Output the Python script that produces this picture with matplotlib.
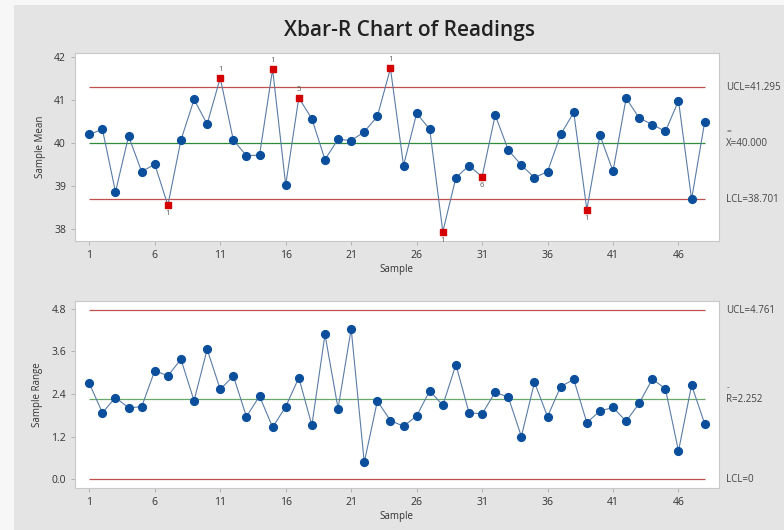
import numpy as np
import matplotlib
matplotlib.use("Agg")
from matplotlib import pyplot as plt
from matplotlib.patches import Rectangle
import matplotlib.transforms as mtransforms

plt.rcParams['font.family'] = ['Open Sans', 'DejaVu Sans']

samples = np.arange(1, 49)
means = [40.20, 40.32, 38.87, 40.16, 39.34, 39.51, 38.56, 40.07, 41.01, 40.44,
         41.51, 40.07, 39.71, 39.72, 41.71, 39.03, 41.05, 40.56, 39.62, 40.09,
         40.06, 40.26, 40.62, 41.73, 39.48, 40.69, 40.32, 37.95, 39.20, 39.48,
         39.22, 40.65, 39.84, 39.49, 39.20, 39.34, 40.20, 40.71, 38.46, 40.18,
         39.35, 41.04, 40.58, 40.43, 40.27, 40.98, 38.70, 40.49]
ranges = [2.70, 1.87, 2.30, 2.01, 2.04, 3.06, 2.91, 3.38, 2.21, 3.66,
          2.53, 2.91, 1.76, 2.34, 1.46, 2.04, 2.86, 1.52, 4.08, 1.99,
          4.24, 0.47, 2.20, 1.65, 1.49, 1.78, 2.49, 2.08, 3.23, 1.87,
          1.84, 2.45, 2.31, 1.20, 2.73, 1.76, 2.61, 2.81, 1.59, 1.92,
          2.02, 1.63, 2.14, 2.82, 2.55, 0.79, 2.65, 1.56]

xbar_ucl, xbar_cl, xbar_lcl = 41.295, 40.000, 38.701
r_ucl, r_cl, r_lcl = 4.761, 2.252, 0.0

# flagged points: sample -> (test number, above/below)
flags = {7: ('1', 'below'), 11: ('1', 'above'), 15: ('1', 'above'),
         17: ('5', 'above'), 24: ('1', 'above'), 28: ('1', 'below'),
         31: ('6', 'below'), 39: ('1', 'below')}

xticks = [1, 6, 11, 16, 21, 26, 31, 36, 41, 46]

bg = '#e4e4e4'
blue = '#0b4f9c'
red = '#d40000'
fig = plt.figure(figsize=(7.84, 5.30), dpi=100)
fig.patch.set_facecolor('#f7f7f7')
fig.patches.append(Rectangle((14 / 784, 0), 1, 1 - 5 / 530, transform=fig.transFigure,
                             facecolor=bg, edgecolor='none', zorder=-10))

fig.text(0.522, 0.942, 'Xbar-R Chart of Readings', ha='center', va='center',
         fontsize=15, fontweight='semibold', color='#222222')


def style_axes(ax):
    ax.set_facecolor('white')
    for s in ax.spines.values():
        s.set_color('#c8c8c8')
        s.set_linewidth(0.8)
    ax.tick_params(axis='both', labelsize=7.5, colors='#333333', length=3,
                   width=0.6, color='#aaaaaa')
    ax.set_xticks(xticks)
    ax.set_xlim(-0.09, 49.07)
    ax.set_xlabel('Sample', fontsize=7, color='#333333', labelpad=2)


def side_label(ax, y, txt, bar=None):
    tr = mtransforms.blended_transform_factory(ax.transAxes, ax.transData)
    ax.text(1.012, y, txt, transform=tr, fontsize=7, color='#444444',
            va='center', ha='left', clip_on=False)
    if bar:
        off = mtransforms.offset_copy(tr, fig=fig, x=0, y=11, units='dots')
        ax.text(1.012, y, bar, transform=off, fontsize=6, color='#444444',
                va='center', ha='left', clip_on=False)


# Xbar chart
ax1 = fig.add_axes([0.0957, 0.545, 0.821, 0.355])
style_axes(ax1)
ax1.hlines([xbar_ucl, xbar_lcl], 1, 48, color='#c0504d', lw=0.9, zorder=1)
ax1.hlines(xbar_cl, 1, 48, color='#2e8b3a', lw=0.9, zorder=1)
ax1.plot(samples, means, color='#5a7ca6', lw=0.8, zorder=2)
normal = [s for s in samples if s not in flags]
ax1.plot(normal, [means[s - 1] for s in normal], 'o', color=blue, ms=5.6,
         mec=blue, zorder=3, ls='none')
fl = sorted(flags)
ax1.plot(fl, [means[s - 1] for s in fl], 's', color=red, ms=4.2, mec=red,
         zorder=3, ls='none')
for s, (lab, pos) in flags.items():
    dy = 0.2 if pos == 'above' else -0.2
    ax1.text(s, means[s - 1] + dy, lab, fontsize=5.5, color='#555555',
             ha='center', va='center')
ax1.set_ylim(37.73, 42.086)
ax1.set_yticks([38, 39, 40, 41, 42])
ax1.set_ylabel('Sample Mean', fontsize=7, color='#333333', labelpad=6)
side_label(ax1, xbar_ucl, 'UCL=41.295')
side_label(ax1, xbar_cl, 'X=40.000', bar='=')
side_label(ax1, xbar_lcl, 'LCL=38.701')

# R chart
ax2 = fig.add_axes([0.0957, 0.0792, 0.821, 0.353])
style_axes(ax2)
ax2.hlines([r_ucl, r_lcl], 1, 48, color='#c0504d', lw=0.9, zorder=1)
ax2.hlines(r_cl, 1, 48, color='#6aa86a', lw=0.9, zorder=1)
ax2.plot(samples, ranges, color='#5a7ca6', lw=0.8, zorder=2)
ax2.plot(samples, ranges, 'o', color=blue, ms=5.6, mec=blue, zorder=3, ls='none')
ax2.set_ylim(-0.254, 5.026)
ax2.set_yticks([0.0, 1.2, 2.4, 3.6, 4.8])
ax2.set_yticklabels(['0.0', '1.2', '2.4', '3.6', '4.8'])
ax2.set_ylabel('Sample Range', fontsize=7, color='#333333', labelpad=6)
side_label(ax2, r_ucl, 'UCL=4.761')
side_label(ax2, r_cl, 'R=2.252', bar='-')
side_label(ax2, r_lcl, 'LCL=0')

fig.savefig('out.png', dpi=100, facecolor=fig.get_facecolor())
